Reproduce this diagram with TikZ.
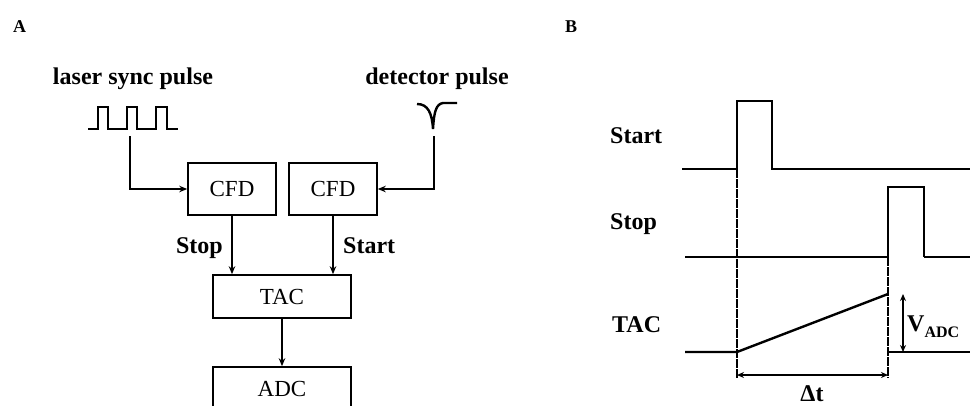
\documentclass[tikz,border=0pt]{standalone}
\usepackage{fontspec}
\setmainfont{Liberation Serif}
\usetikzlibrary{arrows.meta}
\begin{document}
\begin{tikzpicture}[x=1pt,y=-1pt,
  box/.style={draw,line width=1.6pt,inner sep=0pt,font=\fontsize{23}{23}\selectfont},
  lbl/.style={font=\fontsize{24}{24}\selectfont\bfseries,inner sep=0pt,anchor=base},
  panel/.style={font=\fontsize{18}{18}\selectfont\bfseries,inner sep=0pt,anchor=base west},
  conn/.style={line width=2.4pt,-{Stealth[length=8pt,width=6.5pt]}},
  wave/.style={line width=2.4pt,line join=miter},
  thinwave/.style={line width=1.2pt},
  guide/.style={line width=2pt,dash pattern=on 9pt off 1pt},
  dim/.style={line width=1.8pt,{Stealth[length=7pt,width=6pt]}-{Stealth[length=7pt,width=6pt]}},
  ]
\useasboundingbox (0,0) rectangle (970,405);

% ---------- Panel A ----------
\node[panel] (la) at (13,32) {A};
\node[lbl] (lsp) at (133,84) {laser sync pulse};
\node[lbl] (dp) at (437,84) {detector pulse};

\draw[wave] (88,129) -- (98,129) -- (98,107) -- (108,107) -- (108,129) -- (127,129)
  -- (127,107) -- (137,107) -- (137,129) -- (156,129) -- (156,107) -- (167,107)
  -- (167,129) -- (178,129);
\draw[wave] (417,104) .. controls (428,104) and (432,113) .. (433,129)
  .. controls (434,112) and (436,104) .. (443,103) -- (457,103);

\node[box,minimum width=88pt,minimum height=52pt] (cfd1) at (232,189) {CFD};
\node[box,minimum width=88pt,minimum height=52pt] (cfd2) at (333,189) {CFD};
\node[box,minimum width=138pt,minimum height=43pt] (tac) at (282,296.5) {TAC};
\node[box,minimum width=138pt,minimum height=43pt] (adc) at (282,388.5) {ADC};

\coordinate (syncstem) at (130,136);
\coordinate (detstem) at (434,136);
\draw[conn] (syncstem) |- (cfd1.west);
\draw[conn] (detstem) |- (cfd2.east);
\draw[conn] (cfd1.south) -- (cfd1.south |- tac.north);
\draw[conn] (cfd2.south) -- (cfd2.south |- tac.north);
\draw[conn] (tac.south) -- (adc.north);

\node[lbl,anchor=base east] (stoplbl) at (223,253) {Stop};
\node[lbl,anchor=base west] (startlbl) at (343,253) {Start};

% ---------- Panel B ----------
\node[panel] (lb) at (565,32) {B};
\node[lbl,anchor=base west] (bstart) at (610,143) {Start};
\node[lbl,anchor=base west] (bstop) at (610,229) {Stop};
\node[lbl,anchor=base west] (btac) at (612,332) {TAC};
\node[lbl,anchor=base west] (vadc) at (907,331) {V\raisebox{-6pt}{\fontsize{16}{16}\selectfont ADC}};
\node[lbl] (dt) at (812,401) {Δt};

% start trace
\draw[wave] (682,169) -- (737,169) -- (737,101) -- (772,101) -- (772,169) -- (970,169);
% stop trace
\draw[thinwave] (685,257) -- (888,257);
\draw[wave] (888,257) -- (888,187) -- (924,187) -- (924,257);
\draw[thinwave] (924,257) -- (970,257);
% guides
\draw[guide] (737,169) -- (737,378);
\draw[guide] (888,187) -- (888,378);
% TAC trace
\draw[wave] (685,352) -- (737,352) -- (888,294);
\draw[wave] (888,352) -- (970,352);
% dimensions
\draw[dim] (903,294) -- (903,352);
\draw[dim] (737,375) -- (888,375);
\end{tikzpicture}
\end{document}
